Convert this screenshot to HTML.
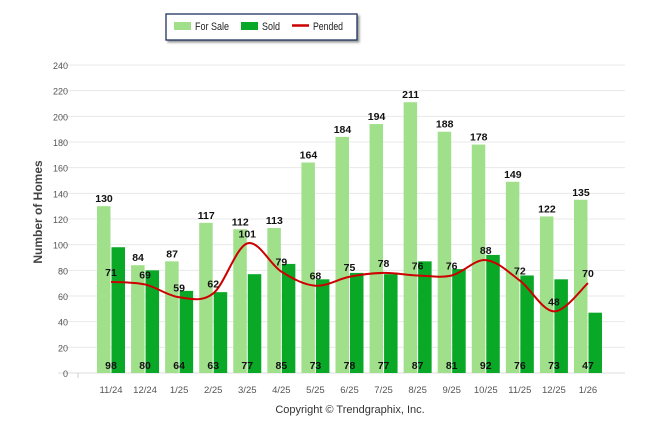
<!DOCTYPE html>
<html><head><meta charset="utf-8"><style>
body{margin:0;background:#fff;font-family:"Liberation Sans",sans-serif}
svg text{font-family:"Liberation Sans",sans-serif}
</style></head><body>
<svg id="c" width="646" height="434">
<g>
<rect x="166" y="14" width="191" height="26" fill="#fff" stroke="#1f3260" stroke-width="1.3" style="filter:drop-shadow(2px 2px 1px #999)"/>
<rect x="174" y="22" width="17" height="8" fill="#a0e08a"/>
<text x="195" y="30" font-size="11" textLength="34" lengthAdjust="spacingAndGlyphs" fill="#222">For Sale</text>
<rect x="241" y="22" width="17" height="8" fill="#0aa827"/>
<text x="262" y="30" font-size="11" textLength="18" lengthAdjust="spacingAndGlyphs" fill="#222">Sold</text>
<line x1="292" y1="25.5" x2="309" y2="25.5" stroke="#c00" stroke-width="2.5"/>
<text x="313" y="30" font-size="11" textLength="30" lengthAdjust="spacingAndGlyphs" fill="#222">Pended</text>
</g>
<g id="grid"></g><g id="bars"></g><g id="line"></g><g id="labels"></g>
<text transform="translate(42,212) rotate(-90)" text-anchor="middle" font-size="12" font-weight="bold" fill="#444">Number of Homes</text>
<text x="350" y="413" text-anchor="middle" font-size="11" fill="#333">Copyright © Trendgraphix, Inc.</text>
</svg>
<script>
const categories=["11/24","12/24","1/25","2/25","3/25","4/25","5/25","6/25","7/25","8/25","9/25","10/25","11/25","12/25","1/26"];
const forSale=[130,84,87,117,112,113,164,184,194,211,188,178,149,122,135];
const sold=[98,80,64,63,77,85,73,78,77,87,81,92,76,73,47];
const pended=[71,69,59,62,101,79,68,75,78,76,76,88,72,48,70];
const yTicks=[0,20,40,60,80,100,120,140,160,180,200,220,240];
const NS="http://www.w3.org/2000/svg";
const y=v=>373-v*308/240, x=i=>111+34.07*i;
function mk(t,a,p){const e=document.createElementNS(NS,t);for(const k in a)e.setAttribute(k,a[k]);p.appendChild(e);return e;}
const G=document.getElementById('grid'),B=document.getElementById('bars'),L=document.getElementById('line'),T=document.getElementById('labels');
yTicks.forEach(v=>{
 const l=mk('line',{x1:58,x2:625,y1:y(v),y2:y(v),stroke:v?'#e8e8e8':'#ddd'},G);
 
 
 const t=mk('text',{x:68,y:y(v)+4,'text-anchor':'end','font-size':9,fill:'#555'},G);t.textContent=v;
 
 
});
mk('line',{x1:78,x2:78,y1:373,y2:378,stroke:'#ccc'},G);
categories.forEach((c,i)=>{
 const cx=x(i);
 const a=mk('rect',{x:cx-14,y:y(forSale[i]),width:13.5,height:373-y(forSale[i]),fill:'#a0e08a'},B);
 
 
 const b=mk('rect',{x:cx+0.5,y:y(sold[i]),width:13.5,height:373-y(sold[i]),fill:'#0aa827'},B);
 
 
 const t=mk('text',{x:cx,y:393,'text-anchor':'middle','font-size':9.5,fill:'#555'},G);t.textContent=c;
 
 
 const f=mk('text',{x:cx-7,y:y(forSale[i])-4,'text-anchor':'middle','font-size':10.5,'font-weight':'bold',fill:'#111'},T);f.textContent=forSale[i];
 
 
 const s=mk('text',{x:cx,y:369,'text-anchor':'middle','font-size':10.5,'font-weight':'bold',fill:'#111'},T);s.textContent=sold[i];
 
 
 const p=mk('text',{x:cx,y:y(pended[i])-6,'text-anchor':'middle','font-size':10.5,'font-weight':'bold',fill:'#111'},T);p.textContent=pended[i];
 
 
});
const pts=pended.map((v,i)=>[x(i),y(v)]);
let d='M'+pts[0][0]+','+pts[0][1];
for(let i=0;i<pts.length-1;i++){
 const p0=pts[Math.max(0,i-1)],p1=pts[i],p2=pts[i+1],p3=pts[Math.min(pts.length-1,i+2)];
 const c1=[p1[0]+(p2[0]-p0[0])/6,p1[1]+(p2[1]-p0[1])/6],c2=[p2[0]-(p3[0]-p1[0])/6,p2[1]-(p3[1]-p1[1])/6];
 d+=' C'+c1+' '+c2+' '+p2;
}
const ln=mk('path',{d:d,fill:'none',stroke:'#c00',"stroke-width":2},L);


</script>
</body></html>
